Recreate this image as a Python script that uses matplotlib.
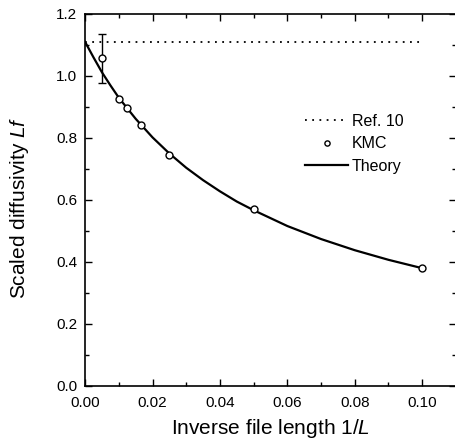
import numpy as np
import matplotlib
matplotlib.use("Agg")
import matplotlib.pyplot as plt

plt.rcParams['font.family'] = ['Liberation Sans', 'DejaVu Sans']
plt.rcParams['mathtext.fontset'] = 'custom'
plt.rcParams['mathtext.rm'] = 'Liberation Sans'
plt.rcParams['mathtext.it'] = 'Liberation Sans:italic'

# Data
kmc_x = np.array([0.005, 0.01, 0.0125, 0.0167, 0.025, 0.05, 0.1])
kmc_y = np.array([1.057, 0.925, 0.898, 0.841, 0.745, 0.571, 0.382])
kmc_err = np.array([0.08, 0, 0, 0, 0, 0, 0])

theory_x = np.array([0, 0.0025, 0.005, 0.0075, 0.01, 0.015, 0.02, 0.025, 0.03, 0.035,
                     0.04, 0.045, 0.05, 0.06, 0.07, 0.08, 0.09, 0.1])
theory_y = np.array([1.11, 1.06, 1.012, 0.97, 0.93, 0.862, 0.802, 0.75, 0.704, 0.664,
                     0.628, 0.595, 0.567, 0.516, 0.474, 0.438, 0.407, 0.38])

ref_x = np.array([0, 0.1])
ref_y = np.array([1.11, 1.11])

fig = plt.figure(figsize=(4.55, 4.43), dpi=100)
ax = fig.add_axes([0.187, 0.1287, 0.815, 0.8397])

ax.plot(ref_x, ref_y, color='black', lw=1.3, linestyle=(0, (1, 3)), label='Ref. 10')
ax.errorbar(kmc_x[:1], kmc_y[:1], yerr=kmc_err[:1], fmt='none', ecolor='black',
            elinewidth=1, capsize=3, capthick=1)
ax.plot(kmc_x, kmc_y, 'o', mfc='white', mec='black', ms=5, mew=1, label='KMC', zorder=3)
ax.plot(theory_x, theory_y, color='black', lw=1.6, label='Theory')

ax.set_xlim(0, 0.11)
ax.set_ylim(0, 1.2)
ax.set_xticks([0, 0.02, 0.04, 0.06, 0.08, 0.10])
ax.set_xticks(np.arange(0.01, 0.11, 0.02), minor=True)
ax.set_yticks([0, 0.2, 0.4, 0.6, 0.8, 1.0, 1.2])
ax.set_yticks(np.arange(0.1, 1.2, 0.2), minor=True)
ax.xaxis.set_major_formatter(plt.FormatStrFormatter('%.2f'))
ax.yaxis.set_major_formatter(plt.FormatStrFormatter('%.1f'))
ax.tick_params(which='both', direction='in', top=True, right=True, width=1)
ax.tick_params(which='major', length=5, labelsize=11)
ax.tick_params(which='minor', length=3)
ax.tick_params(axis='x', pad=7.5)
ax.tick_params(axis='y', pad=5.5)
for s in ax.spines.values():
    s.set_linewidth(1.2)

ax.set_xlabel('Inverse file length 1/$\\mathit{L}$', fontsize=15, labelpad=4.5)
ax.set_ylabel('Scaled diffusivity $\\mathit{Lf}$', fontsize=15, labelpad=18.5)
ax.yaxis.label.set_y(0.478)

ax.legend(loc='upper left', bbox_to_anchor=(0.593, 0.732), frameon=False,
          fontsize=11.5, handlelength=2.7, handletextpad=0.25, labelspacing=0.48,
          borderpad=0, borderaxespad=0, markerscale=0.75)

fig.savefig('out.png', dpi=100)
